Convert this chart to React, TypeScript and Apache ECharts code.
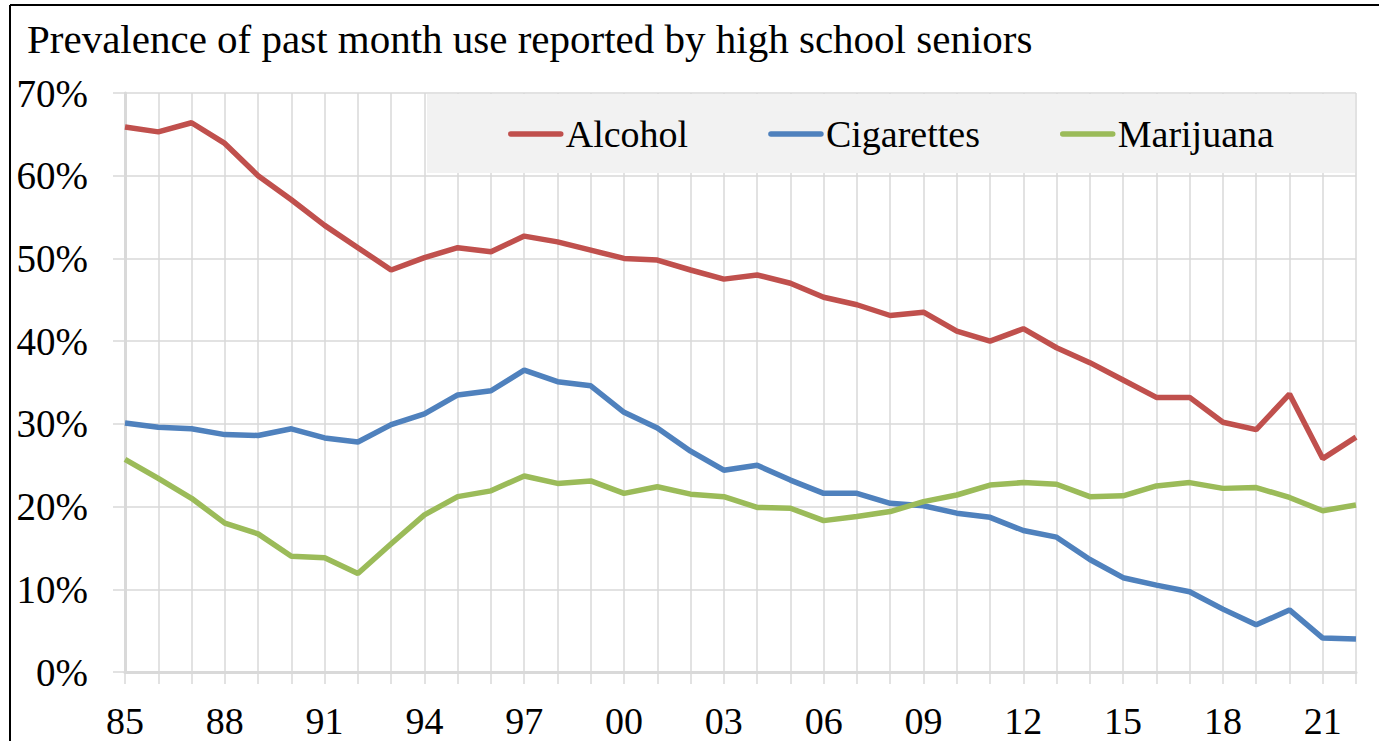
import React, { useEffect, useRef } from "react";
import * as echarts from "echarts";

const years = [
  "85", "86", "87", "88", "89", "90", "91", "92", "93", "94",
  "95", "96", "97", "98", "99", "00", "01", "02", "03", "04",
  "05", "06", "07", "08", "09", "10", "11", "12", "13", "14",
  "15", "16", "17", "18", "19", "20", "21", "22",
];

const alcohol = [
  65.9, 65.3, 66.4, 63.9, 60.0, 57.1, 54.0, 51.3, 48.6, 50.1,
  51.3, 50.8, 52.7, 52.0, 51.0, 50.0, 49.8, 48.6, 47.5, 48.0,
  47.0, 45.3, 44.4, 43.1, 43.5, 41.2, 40.0, 41.5, 39.2, 37.4,
  35.3, 33.2, 33.2, 30.2, 29.3, 33.6, 25.8, 28.4,
];

const cigarettes = [
  30.1, 29.6, 29.4, 28.7, 28.6, 29.4, 28.3, 27.8, 29.9, 31.2,
  33.5, 34.0, 36.5, 35.1, 34.6, 31.4, 29.5, 26.7, 24.4, 25.0,
  23.2, 21.6, 21.6, 20.4, 20.1, 19.2, 18.7, 17.1, 16.3, 13.6,
  11.4, 10.5, 9.7, 7.6, 5.7, 7.5, 4.1, 4.0,
];

const marijuana = [
  25.7, 23.4, 21.0, 18.0, 16.7, 14.0, 13.8, 11.9, 15.5, 19.0,
  21.2, 21.9, 23.7, 22.8, 23.1, 21.6, 22.4, 21.5, 21.2, 19.9,
  19.8, 18.3, 18.8, 19.4, 20.6, 21.4, 22.6, 22.9, 22.7, 21.2,
  21.3, 22.5, 22.9, 22.2, 22.3, 21.1, 19.5, 20.2,
];

const seriesNames = ["Alcohol", "Cigarettes", "Marijuana"];
const seriesColors = ["#C0504D", "#4F81BD", "#9BBB59"];
const titleText = "Prevalence of past month use reported by high school seniors";

const FONT = "'Liberation Serif', 'DejaVu Serif', serif";

export default function App() {
  const ref = useRef<HTMLDivElement>(null);

  useEffect(() => {
    document.body.style.margin = "0";
    if (!ref.current) return;
    const chart = echarts.init(ref.current, undefined, { renderer: "svg" });
    const dataSets = [alcohol, cigarettes, marijuana];
    chart.setOption({
      animation: false,
      backgroundColor: "#ffffff",
      title: {
        text: titleText,
        left: 22,
        top: 13,
        textStyle: {
          fontFamily: FONT,
          fontSize: 41,
          fontWeight: "normal",
          color: "#000000",
        },
      },
      graphic: [
        {
          type: "line",
          shape: { x1: 10, y1: 5, x2: 1379, y2: 5 },
          style: { stroke: "#000000", lineWidth: 2 },
          z: 10,
        },
        {
          type: "line",
          shape: { x1: 10, y1: 5, x2: 10, y2: 741 },
          style: { stroke: "#000000", lineWidth: 2 },
          z: 10,
        },
        {
          type: "rect",
          shape: { x: 427, y: 94, width: 928, height: 79 },
          style: { fill: "#f2f2f2" },
          z: 3,
        },
      ],
      legend: {
        data: seriesNames,
        left: 503,
        top: 110,
        itemWidth: 50,
        itemHeight: 5,
        itemGap: 80,
        itemStyle: { opacity: 0 },
        lineStyle: { width: 5.5, cap: "round" },
        textStyle: {
          fontFamily: FONT,
          fontSize: 38,
          color: "#000000",
        },
        z: 5,
      },
      grid: {
        left: 125,
        right: 23,
        top: 93,
        bottom: 69,
        containLabel: false,
      },
      xAxis: {
        type: "category",
        data: years,
        boundaryGap: false,
        axisLine: { show: true, lineStyle: { color: "#d9d9d9", width: 3 } },
        axisTick: {
          show: true,
          interval: 0,
          length: 12,
          lineStyle: { color: "#d9d9d9", width: 1.5 },
        },
        splitLine: {
          show: true,
          interval: 0,
          lineStyle: { color: "#d9d9d9", width: 1.5 },
        },
        axisLabel: {
          interval: 2,
          margin: 30,
          fontFamily: FONT,
          fontSize: 38,
          color: "#000000",
        },
      },
      yAxis: {
        type: "value",
        min: 0,
        max: 70,
        interval: 10,
        axisLine: { show: true, lineStyle: { color: "#d9d9d9", width: 3 } },
        axisTick: {
          show: true,
          length: 12,
          lineStyle: { color: "#d9d9d9", width: 1.5 },
        },
        splitLine: {
          show: true,
          lineStyle: { color: "#d9d9d9", width: 1.5 },
        },
        axisLabel: {
          formatter: "{value}%",
          margin: 37,
          fontFamily: FONT,
          fontSize: 39,
          color: "#000000",
        },
      },
      series: seriesNames.map((name, i) => ({
        name,
        type: "line",
        data: dataSets[i],
        showSymbol: false,
        symbol: "none",
        color: seriesColors[i],
        lineStyle: { width: 5.5, color: seriesColors[i] },
        z: 4,
      })),
    });
    return () => {
      chart.dispose();
    };
  }, []);

  return <div ref={ref} style={{ width: 1379, height: 741 }} />;
}
